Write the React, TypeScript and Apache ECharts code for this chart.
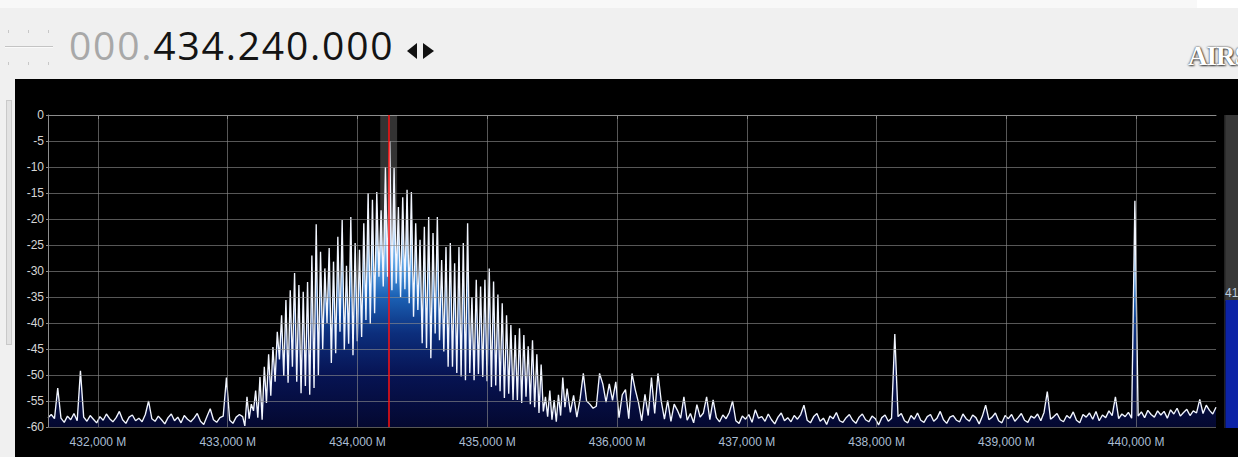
import React, { useEffect, useRef } from "react";
import * as echarts from "echarts";

// ---- data ----
const xTicks = [432, 433, 434, 435, 436, 437, 438, 439, 440];
const yMin = -60;
const yMax = 0;
const yStep = 5;
const tunedFreq = 434.24;
const filterBand = [434.175, 434.305];
const meterLabel = "41";
const spanStart = 431.615; // MHz, left edge of the display
const spanWidth = 9; // MHz

// noise floor 431.615 .. 433.09 MHz, one sample every 25 kHz
const floorLeftStart = 431.615;
const floorLeftStep = 0.025;
const floorLeft = [
  -58.2, -57.6, -58.4, -52.5, -58.3, -59.1, -57.9, -58.6, -57.4, -58.8,
  -49.2, -58.1, -58.9, -57.8, -58.5, -59.2, -58.0, -58.7, -57.5, -58.4,
  -59.0, -58.2, -57.0, -58.6, -59.3, -58.1, -57.7, -58.8, -58.3, -59.0,
  -57.6, -55.0, -58.4, -58.9, -57.9, -58.6, -59.4, -58.2, -57.5, -58.8,
  -58.1, -59.2, -57.8, -58.5, -59.0, -58.3, -57.4, -58.9, -59.5, -58.0,
  -56.5, -58.6, -59.1, -58.2, -57.9, -50.5, -58.7, -59.3, -58.1, -57.6,
];

// the wide signal 433.115 .. 435.6 MHz, one sample every 1/60 MHz
const signalStart = 433.115;
const signalStep = 1 / 60;
const signalBand = [
  -58.0, -59.8, -54.2, -58.4, -55.6, -56.9, -53.0, -58.2, -50.4, -58.6,
  -48.4, -55.4, -46.0, -54.0, -44.6, -51.3, -41.7, -47.0, -38.5, -50.2,
  -35.6, -51.5, -33.7, -48.4, -30.4, -51.3, -32.7, -53.5, -34.0, -52.1,
  -32.1, -53.8, -27.0, -52.5, -21.0, -50.0, -26.3, -45.0, -29.5, -40.0,
  -25.6, -47.7, -28.2, -45.8, -23.4, -41.7, -20.2, -45.2, -29.0, -44.0,
  -19.6, -46.2, -24.6, -43.5, -25.9, -42.7, -20.8, -39.4, -15.0, -40.2,
  -16.3, -38.1, -14.8, -31.1, -18.3, -33.0, -10.0, -31.1, -5.0, -33.7,
  -10.2, -32.4, -17.7, -35.0, -15.8, -33.5, -14.4, -36.2, -14.8, -38.8,
  -20.8, -37.5, -24.0, -43.9, -21.5, -44.8, -19.6, -46.8, -22.7, -42.0,
  -19.6, -43.3, -27.9, -45.5, -25.4, -48.4, -24.6, -48.4, -28.5, -49.6,
  -25.4, -50.3, -24.6, -51.0, -20.8, -49.6, -35.0, -51.0, -31.7, -49.8,
  -33.0, -50.4, -31.7, -51.2, -29.5, -52.3, -32.0, -52.0, -34.5, -53.1,
  -36.2, -54.4, -38.5, -53.6, -40.4, -54.8, -42.3, -54.8, -41.0, -55.4,
  -42.3, -54.2, -44.5, -55.6, -43.3, -56.2, -46.0, -57.3, -48.0, -57.0,
  -54.2, -58.0, -53.0, -58.6, -54.8, -59.0, -53.8, -57.8, -50.5, -56.2,
];

// busy shoulder 435.615 .. 437.09 MHz, one sample every 25 kHz
const shoulderStart = 435.615;
const shoulderStep = 0.025;
const shoulder = [
  -52.6, -57.2, -53.9, -58.1, -54.6, -49.7, -55.0, -55.6, -56.4, -56.0,
  -49.7, -51.7, -55.2, -51.7, -54.9, -51.3, -58.2, -53.8, -52.8, -58.4,
  -49.7, -52.8, -55.3, -58.8, -53.7, -57.8, -50.5, -57.4, -49.7, -55.0,
  -58.5, -54.9, -58.9, -55.6, -56.8, -58.3, -54.2, -58.7, -57.4, -59.2,
  -55.7, -58.1, -57.3, -54.2, -58.6, -54.8, -58.2, -59.0, -57.7, -58.4,
  -57.2, -55.0, -58.8, -59.3, -57.9, -58.5, -57.6, -59.1, -56.7, -58.3,
];

// noise floor 437.115 .. 440.615 MHz, one sample every 25 kHz
const floorRightStart = 437.115;
const floorRightStep = 0.025;
const floorRight = [
  -58.0, -58.9, -57.5, -58.6, -59.4, -58.1, -57.3, -58.8, -58.2, -59.0,
  -57.8, -58.5, -57.6, -55.8, -58.7, -59.2, -58.0, -57.4, -58.9, -58.3,
  -59.5, -57.9, -58.4, -57.2, -58.8, -59.1, -58.2, -57.6, -58.7, -59.3,
  -58.1, -57.5, -58.6, -59.0, -57.9, -58.4, -59.6, -58.2, -57.7, -58.9,
  -58.3, -42.1, -58.0, -57.4, -58.8, -59.2, -57.8, -58.5, -57.3, -58.7,
  -59.1, -58.0, -57.6, -58.9, -58.3, -57.0, -58.6, -59.3, -58.1, -57.8,
  -58.7, -59.0, -57.5, -58.4, -58.9, -57.7, -58.2, -59.4, -57.9, -55.8,
  -58.6, -58.1, -57.3, -58.8, -59.2, -57.8, -58.4, -57.6, -58.9, -58.2,
  -57.4, -58.7, -59.1, -57.9, -58.3, -57.5, -58.8, -57.2, -53.2, -58.5,
  -58.0, -57.4, -58.6, -59.0, -57.8, -58.3, -57.1, -58.7, -59.2, -57.6,
  -58.1, -57.3, -58.5, -57.0, -58.8, -57.7, -58.2, -56.9, -57.8, -54.2,
  -58.4, -57.5, -58.0, -57.2, -58.3, -16.5, -57.9, -57.1, -58.2, -56.8,
  -57.6, -58.1, -56.9, -57.7, -57.0, -58.3, -56.7, -57.5, -56.4, -57.9,
  -57.2, -56.6, -57.8, -56.9, -57.3, -54.7, -57.4, -55.8, -56.8, -57.5,
  -56.2,
];

const AXIS_FONT = "'Liberation Sans', Arial, sans-serif";

function segment(start: number, step: number, values: number[]) {
  return values.map((v, i) => [Number((start + i * step).toFixed(4)), v]);
}

function buildOption(): echarts.EChartsCoreOption {
  const seriesData = [
    ...segment(floorLeftStart, floorLeftStep, floorLeft),
    ...segment(signalStart, signalStep, signalBand),
    ...segment(shoulderStart, shoulderStep, shoulder),
    ...segment(floorRightStart, floorRightStep, floorRight),
  ];
  const gridLineColor = "rgba(140,140,140,0.62)";
  return {
    animation: false,
    backgroundColor: "#000000",
    grid: { left: 33, top: 36, right: 22, bottom: 30, containLabel: false },
    xAxis: {
      type: "value",
      min: spanStart,
      max: spanStart + spanWidth,
      splitLine: { show: false },
      axisLine: { show: true, lineStyle: { color: "#8c8c8c", width: 1 } },
      axisTick: {
        show: true,
        customValues: xTicks,
        length: 4,
        lineStyle: { color: "#8c8c8c" },
      },
      axisLabel: {
        customValues: xTicks,
        formatter: (v: number) => `${Math.round(v)},000 M`,
        color: "#a9bdd2",
        fontSize: 12,
        fontFamily: AXIS_FONT,
        margin: 9,
      },
    },
    yAxis: {
      type: "value",
      min: yMin,
      max: yMax,
      interval: yStep,
      z: 3,
      splitLine: { show: true, lineStyle: { color: gridLineColor, width: 1 } },
      axisLine: { show: true, lineStyle: { color: "#8c8c8c", width: 1 } },
      axisTick: { show: true, length: 2, lineStyle: { color: "#8c8c8c" } },
      axisLabel: {
        color: "#d6d6d6",
        fontSize: 12,
        fontFamily: AXIS_FONT,
        margin: 4,
      },
    },
    series: [
      {
        name: "spectrum",
        type: "line",
        data: seriesData,
        symbol: "none",
        showSymbol: false,
        z: 2,
        lineStyle: { color: "#f2f6ff", width: 1.35 },
        areaStyle: {
          origin: "start",
          opacity: 1,
          color: {
            type: "linear",
            x: 0,
            y: 36,
            x2: 0,
            y2: 348,
            global: true,
            colorStops: [
              { offset: 0, color: "#ffffff" },
              { offset: 0.33, color: "#dcecff" },
              { offset: 0.48, color: "#5aa2e4" },
              { offset: 0.58, color: "#1b62b6" },
              { offset: 0.7, color: "#0c2e7c" },
              { offset: 0.83, color: "#071454" },
              { offset: 1, color: "#040830" },
            ],
          },
        },
      },
      {
        name: "vgrid",
        type: "line",
        data: [],
        z: 3,
        silent: true,
        markLine: {
          silent: true,
          symbol: ["none", "none"],
          label: { show: false },
          lineStyle: { color: gridLineColor, width: 1, type: "solid" },
          data: xTicks.map((v) => ({ xAxis: v })),
        },
      },
      {
        name: "filter",
        type: "line",
        data: [],
        z: 4,
        silent: true,
        markArea: {
          silent: true,
          itemStyle: { color: "rgba(255,255,255,0.2)" },
          data: [[{ xAxis: filterBand[0] }, { xAxis: filterBand[1] }]],
        },
      },
      {
        name: "tuned",
        type: "line",
        data: [],
        z: 5,
        silent: true,
        markLine: {
          silent: true,
          symbol: ["none", "none"],
          label: { show: false },
          lineStyle: { color: "#ff1010", width: 1.5, type: "solid" },
          data: [{ xAxis: tunedFreq }],
        },
      },
    ],
    graphic: [
      { type: "rect", shape: { x: 1209, y: 36, width: 14, height: 186 }, style: { fill: "#383838" }, z: 10 },
      { type: "rect", shape: { x: 1209, y: 36, width: 1.5, height: 313 }, style: { fill: "#222222" }, z: 11 },
      { type: "rect", shape: { x: 1210.5, y: 221, width: 13, height: 128 }, style: { fill: "#0c23a6" }, z: 11 },
      {
        type: "text",
        x: 1210,
        y: 214,
        z: 12,
        style: {
          text: meterLabel,
          fill: "#bccbdc",
          font: `12px ${AXIS_FONT}`,
          verticalAlign: "middle",
          align: "left",
        },
      },
    ],
  };
}

const abs = (s: React.CSSProperties): React.CSSProperties => ({ position: "absolute", ...s });

export default function App() {
  const ref = useRef<HTMLDivElement>(null);
  useEffect(() => {
    if (!ref.current) return;
    const chart = echarts.init(ref.current, undefined, { renderer: "svg" });
    chart.setOption(buildOption());
    return () => chart.dispose();
  }, []);

  return (
    <div
      style={{
        position: "fixed",
        left: 0,
        top: 0,
        width: 1238,
        height: 457,
        overflow: "hidden",
        background: "#f0f0f0",
      }}
    >
      {/* top light strip */}
      <div style={abs({ left: 0, top: 0, width: 1238, height: 8, background: "#f8f8f8" })} />
      <div style={abs({ left: 1197, top: 0, width: 41, height: 8, background: "#ffffff" })} />
      {/* little ruler at top-left */}
      <div style={abs({ left: 5, top: 46, width: 48, height: 1, background: "#c4c4c4" })} />
      <div style={abs({ left: 5, top: 47, width: 48, height: 1, background: "#fafafa" })} />
      {[8, 28, 48].map((x) => (
        <React.Fragment key={x}>
          <div style={abs({ left: x, top: 30, width: 1, height: 3, background: "#c8c8c8" })} />
          <div style={abs({ left: x, top: 62, width: 1, height: 3, background: "#c8c8c8" })} />
        </React.Fragment>
      ))}
      {/* frequency readout */}
      <div
        style={abs({
          left: 69,
          top: 25,
          fontFamily: "'Open Sans', 'DejaVu Sans', sans-serif",
          fontWeight: 400,
          fontSize: 39,
          lineHeight: "39px",
          letterSpacing: "1.8px",
          whiteSpace: "nowrap",
        })}
      >
        <span style={{ color: "#a8a8a8" }}>000.</span>
        <span style={{ color: "#141414" }}>434.240.000</span>
      </div>
      {/* arrows */}
      <div
        style={abs({
          left: 407,
          top: 43,
          width: 0,
          height: 0,
          borderTop: "8px solid transparent",
          borderBottom: "8px solid transparent",
          borderRight: "10px solid #111",
        })}
      />
      <div
        style={abs({
          left: 423,
          top: 43,
          width: 0,
          height: 0,
          borderTop: "8px solid transparent",
          borderBottom: "8px solid transparent",
          borderLeft: "11px solid #111",
        })}
      />
      {/* logo */}
      <div
        style={abs({
          left: 1188,
          top: 43,
          fontFamily: "'Liberation Serif', serif",
          fontWeight: 700,
          fontSize: 27,
          lineHeight: "27px",
          letterSpacing: "-1px",
          color: "#ffffff",
          textShadow: "0 0 2px #222, 1px 1px 2px #444",
          whiteSpace: "nowrap",
        })}
      >
        AIRSPY
      </div>
      {/* left scrollbar strip */}
      <div
        style={abs({
          left: 6,
          top: 100,
          width: 6,
          height: 245,
          background: "#e2e2e2",
          border: "1px solid #c9c9c9",
          boxSizing: "border-box",
        })}
      />
      {/* black spectrum panel */}
      <div ref={ref} style={abs({ left: 15, top: 79, width: 1223, height: 378, background: "#000" })} />
    </div>
  );
}
